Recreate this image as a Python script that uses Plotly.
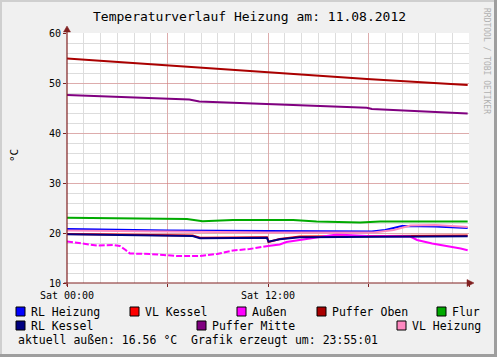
import plotly.graph_objects as go

# ---------------- data (hours since Sat 00:00, °C) ----------------
rl_heizung_t = [0, 6, 12, 18.2, 19.0, 20.0, 22.0, 23.92]
rl_heizung_v = [20.8, 20.5, 20.4, 20.3, 20.6, 21.4, 21.3, 21.0]

vl_kessel_t = [0, 7.5, 7.94, 11.94, 12.03, 12.7, 13.9, 23.92]
vl_kessel_v = [19.8, 19.5, 19.05, 19.15, 18.2, 18.8, 19.3, 19.5]

aussen1_t = [0, 0.78, 1.79, 2.75, 3.16, 3.46, 3.76, 4.96, 6.57, 7.94, 8.96, 9.91, 10.9, 12.0]
aussen1_v = [18.3, 17.9, 17.5, 17.6, 17.4, 16.7, 15.9, 15.8, 15.4, 15.4, 15.8, 16.5, 16.8, 17.4]
aussen2_t = [12.0, 12.7, 13.1, 13.9, 16.1, 17.9, 20.5, 20.9, 21.8, 23.5, 23.92]
aussen2_v = [17.4, 17.7, 18.2, 18.6, 19.7, 19.4, 19.3, 18.6, 17.9, 16.9, 16.56]

puffer_oben_t = [0, 10.9, 17.9, 23.92]
puffer_oben_v = [54.9, 52.4, 50.8, 49.6]

flur_t = [0, 7.16, 8.1, 9.9, 13.5, 14.9, 17.5, 18.7, 23.92]
flur_v = [23.07, 22.8, 22.35, 22.6, 22.6, 22.3, 22.1, 22.3, 22.3]

rl_kessel_t = [0, 7.5, 7.94, 11.94, 12.03, 12.7, 13.9, 23.92]
rl_kessel_v = [19.73, 19.4, 18.95, 19.05, 18.27, 18.73, 19.13, 19.35]

puffer_mitte_t = [0, 7.3, 7.9, 10.9, 17.9, 18.2, 23.92]
puffer_mitte_v = [47.6, 46.7, 46.3, 45.9, 45.06, 44.8, 43.9]

vl_heizung_t = [0, 6, 12, 18.3, 19.5, 20.5, 22.0, 23.92]
vl_heizung_v = [20.5, 20.3, 20.1, 20.1, 20.6, 21.5, 21.6, 21.2]

x_tickvals = [0, 6, 12, 18, 24]
x_ticktext = ["Sat 00:00", "", "Sat 12:00", "", ""]
y_tickvals = [10, 20, 30, 40, 50, 60]

legend_names = ["RL Heizung", "VL Kessel", "Außen", "Puffer Oben", "Flur",
                "RL Kessel", "Puffer Mitte", "VL Heizung"]
legend_colors = ["#0000FF", "#FF0000", "#FF00FF", "#AA0000", "#00AA00",
                 "#000080", "#800080", "#FF88C0"]

# ---------------- figure ----------------
W, H = 497, 357
L, R, T, B = 67, 469, 33, 283
FONT = "DejaVu Sans Mono"


def px(x):
    return (x - L) / (R - L)


def py(y):
    return (B - y) / (B - T)


fig = go.Figure()
series = [
    (rl_heizung_t, rl_heizung_v, legend_colors[0], "solid"),
    (vl_kessel_t, vl_kessel_v, legend_colors[1], "solid"),
    (aussen1_t, aussen1_v, legend_colors[2], "6px,2px"),
    (aussen2_t, aussen2_v, legend_colors[2], "solid"),
    (puffer_oben_t, puffer_oben_v, legend_colors[3], "solid"),
    (flur_t, flur_v, legend_colors[4], "solid"),
    (rl_kessel_t, rl_kessel_v, legend_colors[5], "solid"),
    (puffer_mitte_t, puffer_mitte_v, legend_colors[6], "solid"),
    (vl_heizung_t, vl_heizung_v, legend_colors[7], "solid"),
]
for t, v, c, d in series:
    fig.add_trace(go.Scatter(x=t, y=v, mode="lines",
                             line=dict(color=c, width=2, dash=d),
                             showlegend=False, hoverinfo="skip"))

shapes = []
# frame shading
shapes.append(dict(type="rect", xref="paper", yref="paper",
                   x0=px(0), x1=px(W), y0=py(0), y1=py(2),
                   fillcolor="#CFCFCF", line_width=0, layer="above"))
shapes.append(dict(type="rect", xref="paper", yref="paper",
                   x0=px(0), x1=px(2), y0=py(0), y1=py(H),
                   fillcolor="#CFCFCF", line_width=0, layer="above"))
shapes.append(dict(type="rect", xref="paper", yref="paper",
                   x0=px(W - 3), x1=px(W), y0=py(0), y1=py(H),
                   fillcolor="#9E9E9E", line_width=0, layer="above"))
shapes.append(dict(type="rect", xref="paper", yref="paper",
                   x0=px(0), x1=px(W), y0=py(H - 3), y1=py(H),
                   fillcolor="#9E9E9E", line_width=0, layer="above"))

AX = "#802020"
# axes with arrows
shapes.append(dict(type="line", xref="paper", yref="paper",
                   x0=px(L), x1=px(L), y0=py(B + 3), y1=py(28),
                   line=dict(color=AX, width=1.2), layer="above"))
shapes.append(dict(type="line", xref="paper", yref="paper",
                   x0=px(L - 3), x1=px(470), y0=py(B), y1=py(B),
                   line=dict(color=AX, width=1.2), layer="above"))
shapes.append(dict(type="path", xref="paper", yref="paper",
                   path=f"M {px(L-3.5)} {py(32)} L {px(L+3.5)} {py(32)} L {px(L)} {py(26)} Z",
                   fillcolor=AX, line=dict(color=AX, width=0.5), layer="above"))
shapes.append(dict(type="path", xref="paper", yref="paper",
                   path=f"M {px(467)} {py(B-3.5)} L {px(467)} {py(B+3.5)} L {px(474)} {py(B)} Z",
                   fillcolor=AX, line=dict(color=AX, width=0.5), layer="above"))

annotations = []
# legend
legend_pos = [(16, 311.5), (130, 311.5), (237, 311.5), (317, 311.5), (437, 311.5),
              (16, 325.5), (197, 325.5), (397, 325.5)]
for name, col, (x, y) in zip(legend_names, legend_colors, legend_pos):
    shapes.append(dict(type="rect", xref="paper", yref="paper",
                       x0=px(x), x1=px(x + 9), y0=py(y - 4.5), y1=py(y + 4.5),
                       fillcolor=col, line=dict(color="black", width=1), layer="above"))
    annotations.append(dict(text=name, xref="paper", yref="paper",
                            x=px(x + 13), y=py(y), xanchor="left", yanchor="middle",
                            showarrow=False, font=dict(family=FONT, size=11.5, color="black")))

annotations.append(dict(text="aktuell außen: 16.56 °C  Grafik erzeugt um: 23:55:01",
                        xref="paper", yref="paper", x=px(16), y=py(339.5),
                        xanchor="left", yanchor="middle", showarrow=False,
                        font=dict(family=FONT, size=11.5, color="black")))
annotations.append(dict(text="Temperaturverlauf Heizung am: 11.08.2012",
                        xref="paper", yref="paper", x=px(249), y=py(17),
                        xanchor="center", yanchor="middle", showarrow=False,
                        font=dict(family=FONT, size=13, color="black")))
annotations.append(dict(text="°C", xref="paper", yref="paper", x=px(14), y=py(155),
                        xanchor="center", yanchor="middle", showarrow=False, textangle=-90,
                        font=dict(family=FONT, size=11, color="black")))
annotations.append(dict(text="RRDTOOL / TOBI OETIKER", xref="paper", yref="paper",
                        x=px(487), y=py(61), xanchor="center", yanchor="middle",
                        showarrow=False, textangle=90,
                        font=dict(family=FONT, size=8, color="#B0B0B0")))

fig.update_layout(
    width=W, height=H, autosize=False,
    margin=dict(l=L, r=W - R, t=T, b=H - B, pad=0),
    paper_bgcolor="#F0F0F0", plot_bgcolor="#FFFFFF",
    font=dict(family=FONT, size=10, color="black"),
    shapes=shapes, annotations=annotations, showlegend=False,
)
fig.update_xaxes(range=[0, 24], tickvals=x_tickvals, ticktext=x_ticktext,
                 showgrid=True, gridcolor="rgba(222,80,80,0.35)", gridwidth=1,
                 minor=dict(dtick=1, showgrid=True, gridcolor="#DDDDDD", gridwidth=1),
                 zeroline=False, showline=False, ticks="outside", ticklen=3,
                 tickcolor=AX, tickfont=dict(family=FONT, size=10, color="black"),
                 fixedrange=True)
fig.update_yaxes(range=[10, 60], tickvals=y_tickvals,
                 showgrid=True, gridcolor="rgba(222,80,80,0.35)", gridwidth=1,
                 minor=dict(dtick=2, showgrid=True, gridcolor="#DDDDDD", gridwidth=1),
                 zeroline=False, showline=False, ticks="outside", ticklen=3,
                 tickcolor=AX, tickfont=dict(family=FONT, size=10, color="black"),
                 fixedrange=True)

fig.write_html("out.html", config={"displayModeBar": False})
